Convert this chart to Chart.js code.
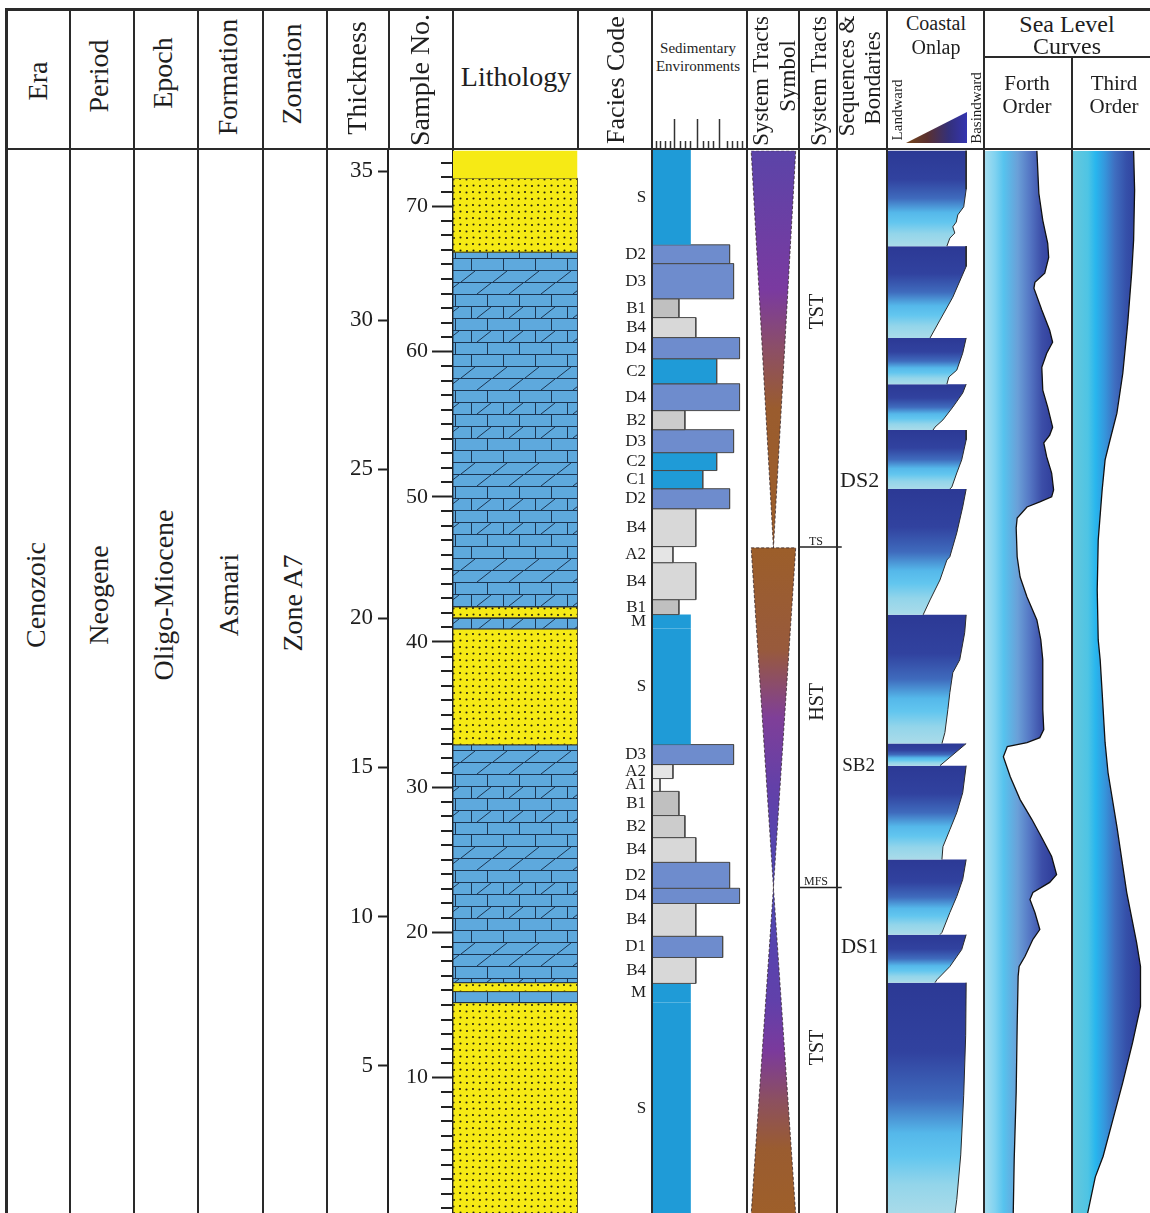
<!DOCTYPE html>
<html lang="en">
<head>
<meta charset="utf-8">
<title>Asmari Formation – stratigraphic column</title>
<script src="https://cdn.jsdelivr.net/npm/chart.js@4.4.1/dist/chart.umd.min.js"></script>
<style>
  html, body { margin: 0; padding: 0; background: #fff; }
  #page { position: relative; width: 1150px; height: 1213px; overflow: hidden; background: #fff;
          font-family: "Liberation Serif", "Times New Roman", serif; color: #1e1e1e; }
  .ln { position: absolute; background: #2a2a2a; z-index: 5; }
  .tx { position: absolute; white-space: nowrap; line-height: 1; z-index: 6; }
  canvas { position: absolute; }
  #onlapKey { position: absolute; left: 906px; top: 112px; width: 61px; height: 31px; z-index: 6;
              background: linear-gradient(to right, #76461a 0%, #5a3030 35%, #34307a 70%, #3434b0 100%);
              clip-path: polygon(0 100%, 100% 0, 100% 100%); }
</style>
</head>
<body>
<div id="page">
  <canvas id="cLith"   width="251" height="1065" style="left:327px;top:150px"></canvas>
  <canvas id="cFacies" width="169" height="1105" style="left:578px;top:110px"></canvas>
  <canvas id="cTracts" width="140" height="1065" style="left:747px;top:150px"></canvas>
  <canvas id="cOnlap"  width="97"  height="1065" style="left:887px;top:150px"></canvas>
  <canvas id="cSea4"   width="88"  height="1065" style="left:984px;top:150px"></canvas>
  <canvas id="cSea3"   width="78"  height="1065" style="left:1072px;top:150px"></canvas>
  <div id="onlapKey"></div>
</div>
<script>
// ================= section data (depths in metres above the base) =================
const depthMax = 35.7;
const thicknessStep = 5;
const sampleMin = 0.57, sampleMax = 73.85;
const sampleLabelStep = 10;

// lithology units
const lithType = ['cover', 'sand', 'lime', 'sand', 'lime', 'sand', 'lime', 'sand', 'lime', 'sand'];
const lithTop  = [35.7, 34.77, 32.29, 20.39, 20.02, 19.65, 15.76, 7.78, 7.48, 7.11];
const lithBase = [34.77, 32.29, 20.39, 20.02, 19.65, 15.76, 7.78, 7.48, 7.11, 0];

// facies beds, top to base
const faciesCode = ['S','D2','D3','B1','B4','D4','C2','D4','B2','D3','C2','C1','D2','B4','A2','B4','B1','M','S',
                    'D3','A2','A1','B1','B2','B4','D2','D4','B4','D1','B4','M','S'];
const faciesTop  = [35.7,32.52,31.89,30.71,30.08,29.41,28.70,27.86,26.96,26.32,25.55,24.95,24.34,23.67,22.40,21.86,
                    20.62,20.12,19.65,15.76,15.09,14.62,14.19,13.38,12.64,11.81,10.94,10.43,9.33,8.62,7.75,7.11];
const faciesBase = faciesTop.slice(1).concat([0]);

// position of each facies on the sedimentary-environment scale
const envCodes = ['A1','A2','B1','B2','B4','M','S','C1','C2','D1','D2','D3','D4'];
const envReach = [8, 21, 27, 33, 44, 39, 39, 51, 65, 71, 78, 82, 88];
const envRulerMinor = [4, 8, 13, 18, 28, 33, 38, 51, 56, 61, 75, 80, 85, 90];
const envRulerMajor = [22, 45, 67];

// systems tracts, key surfaces and sequences
const tractName  = ['TST', 'HST', 'TST'];
const tractTop   = [35.7, 22.37, 10.97];
const tractBase  = [22.37, 10.97, 0];
const tractWide  = ['top', 'top', 'base'];
const tractLabelDepth = [30.3, 17.2, 5.6];
const surfaceName  = ['TS', 'MFS'];
const surfaceDepth = [22.4, 10.97];
const sequenceName  = ['DS2', 'SB2', 'DS1'];
const sequenceDepth = [24.59, 15.04, 8.97];

// coastal onlap: basinward reach of each onlap unit, [reach, depth] from its top to its base
const onlapEdges = [
  [[79.5,35.7],[79.5,34.4],[77,33.81],[71,33.54],[69.5,33.30],[66,33.14],[68,32.93],[63,32.76],[60,32.49]],
  [[79.5,32.49],[79.5,31.81],[66,30.78],[53,30.01],[43,29.41]],
  [[79.5,29.41],[76,28.90],[70,28.33],[62,28.10],[60,27.86]],
  [[79.5,27.86],[76,27.56],[66,27.09],[56,26.66],[48,26.42],[46,26.32]],
  [[79.5,26.32],[79.5,25.99],[75,25.32],[70,24.88],[65,24.41],[63,24.34]],
  [[79.5,24.34],[76,23.74],[70,22.87],[63,22.07],[60,21.96],[53,21.29],[43,20.62],[36,20.12]],
  [[79.5,20.12],[78,19.52],[73,18.61],[66,18.18],[63,17.51],[61,16.94],[58,16.17],[55,15.80]],
  [[79.5,15.80],[53,15.06]],
  [[79.5,15.06],[76,14.15],[70,13.48],[63,12.91],[56,12.34],[55,11.91]],
  [[79.5,11.91],[76,11.24],[70,10.67],[63,10.13],[55,9.46],[53,9.39]],
  [[79.5,9.39],[75,8.89],[63,8.32],[50,7.88],[48,7.78]],
  [[79.5,7.78],[79,6.0],[77,4.0],[74,2.0],[70,0.5],[68,0]]
];

// relative sea level
const fourthLevel = [53,55,59,64,65,61,51,50,58,66,69,63,58,59,64,69,66,60,63,68,70,68,56,43,33,32,33,36,43,53,
                     57,59,59,60,56,43,23,19,26,36,48,59,68,73,66,49,46,51,56,49,41,35,34,33,32,30,29];
const fourthDepth = [35.7,34.27,33.36,32.59,32.12,31.59,31.28,31.08,30.35,29.67,29.27,28.90,28.43,27.66,27.09,
                     26.42,26.15,25.89,25.42,24.88,24.31,24.08,23.91,23.74,23.37,23.04,22.07,21.39,20.72,19.95,
                     19.28,18.61,16.94,16.27,16.00,15.83,15.70,15.36,14.69,13.92,13.25,12.58,12.01,11.40,11.14,
                     10.80,10.57,10.13,9.56,9.23,8.66,8.32,7.99,6.31,4.10,1.85,0];
const thirdLevel = [62,63,62,60,56,51,45,38,33,30,26,25,26,28,30,33,36,45,55,65,69,69,69,61,51,41,31,23,15];
const thirdDepth = [35.7,34.37,32.69,31.59,29.91,28.23,26.89,25.99,25.32,24.31,22.63,20.96,19.28,18.61,17.51,
                    15.83,14.82,13.01,10.80,9.13,8.32,7.45,6.98,5.77,4.43,3.19,1.95,1.25,0];

// ================= styles =================
const INK = '#1e1e1e';
const SERIF = '"Liberation Serif", "Times New Roman", serif';
const envColor = { A1: '#efefef', A2: '#e5e5e5', B1: '#c0c0c0', B2: '#cccccc', B4: '#d8d8d8',
                   M: '#1f9bd7', S: '#1f9bd7', C1: '#1f9bd7', C2: '#1f9bd7',
                   D1: '#6e8ccd', D2: '#6e8ccd', D3: '#6e8ccd', D4: '#6e8ccd' };
const wedgeHalf = 22.5;
const surfaceSpan = [26, 69];
const onlapStops = [[0,'#2c3995'],[0.3,'#31429f'],[0.5,'#3f6bbd'],[0.65,'#55b8ea'],[0.75,'#62c6ef'],[0.87,'#93d5ea'],[1,'#aadbe9']];
const fourthStops = [[0,'#a6def0'],[0.12,'#80d2f0'],[0.22,'#56c3ee'],[0.38,'#6aa0d8'],[0.52,'#5577c4'],[0.66,'#3c4ea8'],[0.8,'#2f3d9a'],[1,'#2c3896']];
const thirdStops  = [[0,'#67c8dc'],[0.2,'#4ec4e4'],[0.3,'#28b6ee'],[0.42,'#3596dc'],[0.55,'#3f6ec0'],[0.7,'#3550a9'],[0.85,'#2f3f9c'],[1,'#2c3896']];
const wedgeStops = {
  topTST: [[0,'#5b44a8'],[0.35,'#7a3aa0'],[0.5,'#8c4f66'],[0.65,'#9a5c2e'],[1,'#9c5e2a']],
  HST:    [[0,'#9c5e2a'],[0.3,'#985a3c'],[0.5,'#7f3f98'],[0.7,'#6340a8'],[1,'#4d48b2']],
  baseTST:[[0,'#4d48b2'],[0.35,'#6140aa'],[0.5,'#7b3a9c'],[0.65,'#8c5060'],[0.8,'#9a5c30'],[1,'#9e5f2a']]
};

Chart.defaults.font.family = SERIF;
Chart.defaults.color = INK;

// ================= page frame and header text =================
const page = document.getElementById('page');
function line(x, y, w, h) {
  const d = document.createElement('div');
  d.className = 'ln';
  Object.assign(d.style, { left: x + 'px', top: y + 'px', width: w + 'px', height: h + 'px' });
  page.appendChild(d);
}
line(5, 8, 1145, 3);     // top frame
line(5, 8, 3, 1205);     // left frame
line(5, 148, 1145, 2);   // header base
line(984, 56, 166, 2);   // split under "Sea Level Curves"
[[70, 9, 1213], [134, 9, 1213], [198, 9, 1213], [263, 9, 1213], [327, 9, 1213], [389, 9, 150], [453, 9, 150],
 [578, 9, 150], [652, 9, 1213], [747, 9, 1213], [799, 9, 1213], [837, 9, 1213], [887, 9, 1213], [984, 9, 1213],
 [1072, 57, 1213]].forEach(([x, y0, y1]) => line(x - 1, y0, 2, y1 - y0));

const texts = [
  ['Era', 38, 81, 28, 1], ['Period', 99, 76, 28, 1], ['Epoch', 163, 73, 28, 1], ['Formation', 228, 77, 28, 1],
  ['Zonation', 292, 74, 28, 1], ['Thickness', 357, 78, 28, 1], ['Sample No.', 420, 80, 28, 1],
  ['Lithology', 516, 77, 28, 0], ['Facies Code', 616, 80, 26, 1],
  ['Sedimentary', 698, 48, 15, 0], ['Environments', 698, 66, 15, 0],
  ['System Tracts', 760, 81, 23, 1], ['Symbol', 787, 76, 23, 1], ['System Tracts', 818, 81, 23, 1],
  ['Sequences &', 846, 76, 23, 1], ['Bondaries', 872, 78, 23, 1],
  ['Coastal', 936, 23, 20, 0], ['Onlap', 936, 47, 20, 0], ['Landward', 897, 110, 15, 1], ['Basindward', 976, 108, 15, 1],
  ['Sea Level', 1067, 24, 24, 0], ['Curves', 1067, 46, 24, 0],
  ['Forth', 1027, 83, 21, 0], ['Order', 1027, 106, 21, 0], ['Third', 1114, 83, 21, 0], ['Order', 1114, 106, 21, 0],
  ['Cenozoic', 36, 595, 28, 1], ['Neogene', 99, 595, 28, 1], ['Oligo-Miocene', 164, 595, 28, 1],
  ['Asmari', 229, 595, 28, 1], ['Zone A7', 293, 603, 28, 1]
];
texts.forEach(([t, x, y, size, rot]) => {
  const d = document.createElement('div');
  d.className = 'tx';
  d.textContent = t;
  Object.assign(d.style, { left: x + 'px', top: y + 'px', fontSize: size + 'px',
    transform: 'translate(-50%,-50%)' + (rot ? ' rotate(-90deg)' : '') });
  page.appendChild(d);
});

// ================= fills =================
function sandFill(dotted) {
  const c = document.createElement('canvas'); c.width = 13; c.height = 13;
  const g = c.getContext('2d');
  g.fillStyle = '#f6ea15'; g.fillRect(0, 0, 13, 13);
  if (dotted) {
    g.fillStyle = '#26230e';
    [[3, 3], [9.5, 3.5], [3.5, 9.5], [10, 10]].forEach(([x, y]) => { g.beginPath(); g.arc(x, y, 1.05, 0, Math.PI * 2); g.fill(); });
  }
  return g.createPattern(c, 'repeat');
}
function limeFill() {
  const W = 64, H = 12, rows = ['b', 'b', 'd', 'd', 'b', 'bd', 'b', 'bd'];
  const c = document.createElement('canvas'); c.width = W; c.height = H * rows.length;
  const g = c.getContext('2d');
  g.fillStyle = '#5ea9dd'; g.fillRect(0, 0, c.width, c.height);
  g.strokeStyle = '#1c3552'; g.lineWidth = 1;
  rows.forEach((kind, r) => {
    const y0 = r * H;
    g.beginPath(); g.moveTo(0, y0 + 0.5); g.lineTo(W, y0 + 0.5); g.stroke();
    const off = (r % 2) ? 16 : 0;
    for (let x = off; x < W; x += 32) {
      [-W, 0, W].forEach(s => {
        if (kind.includes('b')) { g.beginPath(); g.moveTo(x + s + 0.5, y0); g.lineTo(x + s + 0.5, y0 + H); g.stroke(); }
        if (kind.includes('d')) { g.beginPath(); g.moveTo(x + s + 6, y0 + H); g.lineTo(x + s + 20, y0 + 1); g.stroke(); }
      });
    }
  });
  return g.createPattern(c, 'repeat');
}
const lithFill = { cover: sandFill(false), sand: sandFill(true), lime: limeFill() };

function vGradient(top, base, stops, fallback) {
  return (c) => {
    const ch = c.chart;
    if (!ch.chartArea) return fallback;
    const y = ch.scales.y;
    const g = ch.ctx.createLinearGradient(0, y.getPixelForValue(top), 0, y.getPixelForValue(base));
    stops.forEach(s => g.addColorStop(s[0], s[1]));
    return g;
  };
}
function hGradient(stops, fallback) {
  return (c) => {
    const a = c.chart.chartArea;
    if (!a) return fallback;
    const g = c.chart.ctx.createLinearGradient(a.left, 0, a.right, 0);
    stops.forEach(s => g.addColorStop(s[0], s[1]));
    return g;
  };
}

// ================= chart helpers =================
const pts = arr => arr.map(([x, y]) => ({ x, y }));
function shape(points, fill, extra) {
  return Object.assign({ data: pts(points), fill: 'shape', backgroundColor: fill, borderWidth: 0,
                         borderColor: 'rgba(0,0,0,0)', pointRadius: 0 }, extra || {});
}
function stroke(points, color, width, extra) {
  return Object.assign({ data: pts(points), fill: false, borderColor: color, borderWidth: width, pointRadius: 0 }, extra || {});
}
function rect(x0, x1, top, base) { return [[x0, top], [x1, top], [x1, base], [x0, base], [x0, top]]; }

function textLayer(items) {
  return {
    id: 'textLayer',
    afterDatasetsDraw(chart) {
      const { ctx } = chart, xs = chart.scales.x, ys = chart.scales.y;
      items.forEach(m => {
        ctx.save();
        ctx.font = m.size + 'px ' + SERIF;
        ctx.fillStyle = INK;
        ctx.textAlign = m.align || 'center';
        ctx.textBaseline = m.baseline || 'middle';
        ctx.translate(xs.getPixelForValue(m.x), ys.getPixelForValue(m.y) + (m.dy || 0));
        if (m.rotate) ctx.rotate(-Math.PI / 2);
        ctx.fillText(m.text, 0, 0);
        ctx.restore();
      });
    }
  };
}

function makeChart(id, cfg) {
  const ch = new Chart(document.getElementById(id), {
    type: 'line',
    data: { datasets: cfg.datasets },
    options: {
      responsive: false, animation: false, events: [], devicePixelRatio: 1,
      layout: { padding: cfg.padding || 0 },
      plugins: { legend: { display: false }, tooltip: { enabled: false } },
      elements: { point: { radius: 0, hoverRadius: 0 }, line: { tension: 0 } },
      scales: Object.assign({
        x: { type: 'linear', min: cfg.xMin, max: cfg.xMax, display: false },
        y: { type: 'linear', min: 0, max: depthMax, display: false }
      }, cfg.scales || {})
    },
    plugins: cfg.plugins || []
  });
  ch.update();
  return ch;
}

// ================= thickness / sample axes + lithology =================
const sampleMinorTicks = {
  id: 'sampleMinorTicks',
  afterDraw(chart) {
    const s = chart.scales.ys, ctx = chart.ctx;
    ctx.save(); ctx.strokeStyle = '#222'; ctx.lineWidth = 2;
    for (let v = Math.ceil(s.min); v <= Math.floor(s.max); v++) {
      if (v % sampleLabelStep === 0) continue;
      const y = Math.round(s.getPixelForValue(v));
      ctx.beginPath(); ctx.moveTo(s.right - 12, y); ctx.lineTo(s.right, y); ctx.stroke();
    }
    ctx.restore();
  }
};
makeChart('cLith', {
  xMin: 0, xMax: 1,
  datasets: lithType.map((t, i) => shape(rect(0, 1, lithTop[i], lithBase[i]), lithFill[t], t === 'cover'
    ? {} : { borderWidth: 1, borderColor: t === 'lime' ? '#1f3048' : '#4a4418' })),
  scales: {
    yt: {
      type: 'linear', position: 'left', weight: 2, min: 0, max: depthMax,
      afterFit(s) { s.width = 61; s.paddingTop = 0; s.paddingBottom = 0; },
      grid: { drawOnChartArea: false, tickLength: 10, tickWidth: 2, tickColor: '#222' },
      border: { display: true, color: '#222', width: 2 },
      ticks: { stepSize: thicknessStep, includeBounds: false, padding: 5, color: INK,
               font: { size: 23 }, callback: v => (v === 0 ? '' : v) }
    },
    ys: {
      type: 'linear', position: 'left', weight: 1, min: sampleMin, max: sampleMax,
      afterFit(s) { s.width = 65; s.paddingTop = 0; s.paddingBottom = 0; },
      grid: { drawOnChartArea: false, tickLength: 21, tickWidth: 2, tickColor: '#222' },
      border: { display: true, color: '#222', width: 2 },
      ticks: { stepSize: sampleLabelStep, includeBounds: false, padding: 4, color: INK, font: { size: 22 } }
    }
  },
  plugins: [sampleMinorTicks]
});

// ================= facies / sedimentary environments =================
const envRuler = {
  id: 'envRuler',
  afterDraw(chart) {
    const x = chart.scales.x, top = chart.chartArea.top, ctx = chart.ctx;
    ctx.save(); ctx.strokeStyle = '#333'; ctx.lineWidth = 1.5;
    const tick = (v, len) => { const px = Math.round(x.getPixelForValue(v)) + 0.5;
      ctx.beginPath(); ctx.moveTo(px, top - 1); ctx.lineTo(px, top - 1 - len); ctx.stroke(); };
    envRulerMinor.forEach(v => tick(v, 8));
    envRulerMajor.forEach(v => tick(v, 30));
    ctx.restore();
  }
};
const reachOf = code => envReach[envCodes.indexOf(code)];
makeChart('cFacies', {
  xMin: -74, xMax: 95, padding: { top: 40 },
  datasets: faciesCode.map((code, i) => {
    const sm = code === 'S' || code === 'M';
    return shape(rect(0, reachOf(code), faciesTop[i], faciesBase[i]), envColor[code],
      sm ? {} : { borderWidth: 1, borderColor: '#4a4a4a' });
  }),
  plugins: [envRuler, textLayer(faciesCode.map((code, i) => ({
    text: code, x: -6, y: (faciesTop[i] + faciesBase[i]) / 2, size: 17, align: 'right' })))]
});

// ================= systems tracts, surfaces, sequences =================
const tractDatasets = tractName.map((name, i) => {
  const top = tractTop[i], base = tractBase[i];
  const poly = tractWide[i] === 'top'
    ? [[-wedgeHalf, top], [wedgeHalf, top], [0, base], [-wedgeHalf, top]]
    : [[0, top], [wedgeHalf, base], [-wedgeHalf, base], [0, top]];
  const stops = i === 0 ? wedgeStops.topTST : (name === 'HST' ? wedgeStops.HST : wedgeStops.baseTST);
  return shape(poly, vGradient(top, base, stops, stops[0][1]),
    { borderWidth: 1, borderColor: 'rgba(50,35,40,0.75)', borderDash: [3, 2] });
});
surfaceDepth.forEach(d => tractDatasets.push(stroke([[surfaceSpan[0], d], [surfaceSpan[1], d]], '#222', 1.4)));
makeChart('cTracts', {
  xMin: -26, xMax: 114,
  datasets: tractDatasets,
  plugins: [textLayer([
    ...tractName.map((t, i) => ({ text: t, x: 45, y: tractLabelDepth[i], size: 20, rotate: true })),
    ...surfaceName.map((t, i) => ({ text: t, x: 43, y: surfaceDepth[i], size: 12, baseline: 'alphabetic', dy: -2 })),
    { text: sequenceName[0], x: 87, y: sequenceDepth[0], size: 22 },
    { text: sequenceName[1], x: 86, y: sequenceDepth[1], size: 19 },
    { text: sequenceName[2], x: 87, y: sequenceDepth[2], size: 21 }
  ])]
});

// ================= coastal onlap =================
const onlapDatasets = [];
onlapEdges.forEach(edge => {
  const top = edge[0][1], base = edge[edge.length - 1][1];
  onlapDatasets.push(stroke(edge, '#2a2a2a', 1));
  onlapDatasets.push(shape([[0, top], ...edge, [0, base]], vGradient(top, base, onlapStops, onlapStops[0][1])));
});
makeChart('cOnlap', { xMin: 0, xMax: 97, datasets: onlapDatasets });

// ================= sea-level curves =================
function seaLevel(id, level, depth, width, stops) {
  const curve = level.map((v, i) => [v, depth[i]]);
  makeChart(id, {
    xMin: 0, xMax: width,
    datasets: [
      stroke(curve, '#111', 1.3),
      shape([[0, depth[0]], ...curve, [0, depth[depth.length - 1]]], hGradient(stops, stops[0][1]))
    ]
  });
}
seaLevel('cSea4', fourthLevel, fourthDepth, 88, fourthStops);
seaLevel('cSea3', thirdLevel, thirdDepth, 78, thirdStops);
</script>
</body>
</html>
